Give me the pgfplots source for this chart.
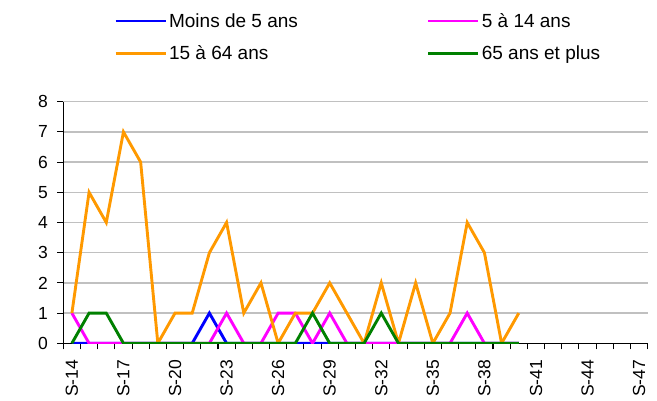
\documentclass[border=0pt]{standalone}
\usepackage{fontspec}
\setmainfont{Liberation Sans}
\usepackage{pgfplots}
\usepackage{pgfplotstable}
\pgfplotsset{compat=1.18}
\definecolor{cblue}{RGB}{0,0,255}
\definecolor{cmag}{RGB}{255,0,255}
\definecolor{corange}{RGB}{255,153,0}
\definecolor{cgreen}{RGB}{0,128,0}
\definecolor{cgrid}{RGB}{192,192,192}
\pgfplotstableread{
x blue mag orange green
0 0 1 1 0
1 0 0 5 1
2 0 0 4 1
3 0 0 7 0
4 0 0 6 0
5 0 0 0 0
6 0 0 1 0
7 0 0 1 0
8 1 0 3 0
9 0 1 4 0
10 0 0 1 0
11 0 0 2 0
12 0 1 0 0
13 0 1 1 0
14 0 0 1 1
15 0 1 2 0
16 0 0 1 0
17 0 0 0 0
18 0 0 2 1
19 0 0 0 0
20 0 0 2 0
21 0 0 0 0
22 0 0 1 0
23 0 1 4 0
24 0 0 3 0
25 0 0 0 0
26 0 0 1 0
}\data
\begin{document}
\begin{tikzpicture}[x=1pt,y=1pt]
\useasboundingbox (0,0) rectangle (657,401);
\begin{axis}[
  at={(63.3pt,57.7pt)}, anchor=south west,
  scale only axis, width=584.4pt, height=241.6pt,
  xmin=-0.5, xmax=33.5, ymin=0, ymax=8,
  axis x line*=bottom, axis y line*=left,
  axis line style={black, line width=1.4pt},
  ytick={0,...,8},
  ymajorgrids, grid style={cgrid, line width=1.3pt},
  xtick={-0.5,0.5,...,33.5}, xticklabels={},
  extra x ticks={0,3,...,33},
  extra x tick labels={S-14,S-17,S-20,S-23,S-26,S-29,S-32,S-35,S-38,S-41,S-44,S-47},
  extra x tick style={tick style={draw=none}, grid=none},
  tick align=outside, major tick length=6pt,
  tick style={black, line width=1.1pt},
  ticklabel style={font=\fontsize{17.5}{20}\selectfont},
  /pgf/number format/assume math mode=true,
  xticklabel style={rotate=90, anchor=east},
  xticklabel shift=7pt,
  yticklabel shift=6pt,
  legend columns=2,
  legend cell align=left,
  legend style={draw=none, fill=none, at={(0.0816,1.3837)}, anchor=north west,
    font=\fontsize{19}{22}\selectfont,
    nodes={inner xsep=2pt, inner ysep=2pt},
    /tikz/every even column/.append style={column sep=127pt},
    row sep=13pt},
  legend image code/.code={\draw[#1] (0pt,0pt) -- (50pt,0pt);},
  every axis plot/.append style={line width=2.9pt, line join=miter, mark=none},
]
\addplot[cblue] table[x=x, y=blue] {\data};
\addplot[cmag] table[x=x, y=mag] {\data};
\addplot[corange] table[x=x, y=orange] {\data};
\addplot[cgreen] table[x=x, y=green] {\data};
\legend{Moins de 5 ans, 5 à 14 ans, 15 à 64 ans, 65 ans et plus}
\end{axis}
\end{tikzpicture}
\end{document}
